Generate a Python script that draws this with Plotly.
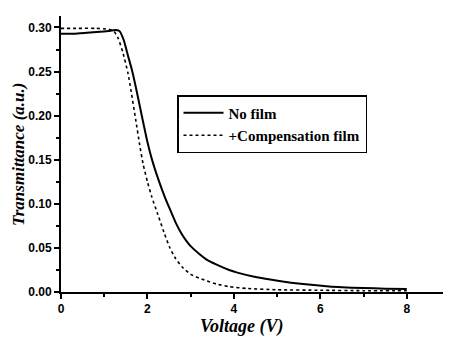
import plotly.graph_objects as go

# No film (solid)
v_nofilm = [0.0, 0.3, 0.6, 0.9, 1.1, 1.25, 1.35, 1.45, 1.55, 1.64, 1.75, 1.89, 2.0, 2.1, 2.25, 2.4, 2.51, 2.65, 2.79, 2.9, 3.0, 3.2, 3.36, 3.6, 3.89, 4.08, 4.5, 5.05, 5.6, 6.2, 7.0, 7.5, 8.0]
t_nofilm = [0.293, 0.293, 0.294, 0.295, 0.296, 0.297, 0.296, 0.286, 0.268, 0.252, 0.228, 0.195, 0.170, 0.151, 0.128, 0.108, 0.095, 0.079, 0.066, 0.058, 0.052, 0.043, 0.037, 0.031, 0.025, 0.022, 0.017, 0.0125, 0.009, 0.0063, 0.0045, 0.0038, 0.0033]

# +Compensation film (dotted)
v_comp = [0.0, 0.4, 0.8, 1.1, 1.22, 1.32, 1.43, 1.55, 1.73, 1.82, 1.9, 2.0, 2.1, 2.24, 2.38, 2.51, 2.65, 2.81, 3.0, 3.32, 3.6, 3.9, 4.3, 5.0, 6.0, 7.0, 8.0]
t_comp = [0.299, 0.299, 0.299, 0.298, 0.296, 0.288, 0.272, 0.248, 0.195, 0.167, 0.145, 0.125, 0.108, 0.088, 0.068, 0.051, 0.038, 0.028, 0.020, 0.0135, 0.009, 0.006, 0.004, 0.0025, 0.002, 0.0015, 0.0015]

fig = go.Figure()
fig.add_trace(go.Scatter(x=v_nofilm, y=t_nofilm, mode="lines", name="<b>No film</b>",
                         line=dict(color="black", width=2, shape="spline", smoothing=0.5)))
fig.add_trace(go.Scatter(x=v_comp, y=t_comp, mode="lines", name="<b>+Compensation film</b>",
                         line=dict(color="black", width=1.6, dash="dot", shape="spline", smoothing=0.5)))

tickfont = dict(family="Liberation Sans, Arial, sans-serif", size=12, color="black", weight="bold")
serif = "Liberation Serif, Times New Roman, serif"

# page has an 8px body margin; figure sized to fit the window
W, H = 443, 332
L, R, T, B = 53, 1, 8, 48
pw, ph = W - L - R, H - T - B
off = 8  # screen offset


def px(xs):
    return (xs - off - L) / pw


def py(ys):
    return (H - B - (ys - off)) / ph


fig.update_layout(
    width=W, height=H,
    margin=dict(l=L, r=R, t=T, b=B, autoexpand=False),
    paper_bgcolor="white", plot_bgcolor="white",
    showlegend=True,
    legend=dict(x=px(177), y=py(95), xanchor="left", yanchor="top",
                bgcolor="white", bordercolor="black", borderwidth=1.5,
                font=dict(family=serif, size=15, color="black"),
                tracegroupgap=0, itemwidth=40),
    xaxis=dict(range=[0, 9], showgrid=False, zeroline=False, showline=True,
               linecolor="black", linewidth=2, ticks="outside", ticklen=5,
               tickwidth=1.5, tickcolor="black", tickvals=[0, 2, 4, 6, 8],
               ticktext=["0", "2", "4", "6", "8"], tickfont=tickfont,
               minor=dict(tickvals=[1, 3, 5, 7], ticks="outside", ticklen=3, tickcolor="black")),
    yaxis=dict(range=[0, 0.313], showgrid=False, zeroline=False, showline=True,
               linecolor="black", linewidth=2, ticks="outside", ticklen=5,
               tickwidth=1.5, tickcolor="black",
               tickvals=[0, 0.05, 0.10, 0.15, 0.20, 0.25, 0.30],
               ticktext=["0.00", "0.05", "0.10", "0.15", "0.20", "0.25", "0.30"],
               tickfont=tickfont,
               minor=dict(tickvals=[0.025, 0.075, 0.125, 0.175, 0.225, 0.275], ticks="outside",
                          ticklen=3, tickcolor="black")),
    annotations=[
        dict(text="<b><i>Voltage (V)</i></b>", x=px(242), y=py(326),
             xref="paper", yref="paper", xanchor="center", yanchor="middle", showarrow=False,
             font=dict(family=serif, size=18, color="black")),
        dict(text="<b><i>Transmittance (a.u.)</i></b>", x=px(18), y=py(155),
             xref="paper", yref="paper", xanchor="center", yanchor="middle",
             textangle=-90, showarrow=False,
             font=dict(family=serif, size=17, color="black")),
    ],
)

fig.write_html("out.html")
